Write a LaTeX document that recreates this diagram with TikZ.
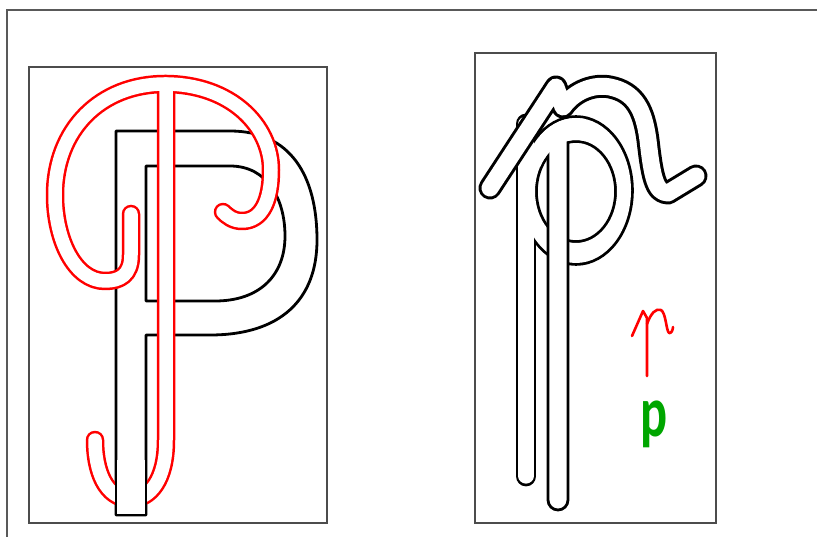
\documentclass[tikz,border=0pt]{standalone}
\usepackage{fontspec}
\newfontfamily\carlito{Carlito}

\begin{document}
\begin{tikzpicture}[x=1pt, y=-1pt,
  frame/.style={draw=black!65, line width=1.5},
  panel/.style={draw=black!70, line width=1.2},
  letter/.style={draw=black, line width=2.8, line join=round},
  redrim/.style={red, line width=18.5, line cap=round, line join=round},
  redhole/.style={white, line width=13.5, line cap=round, line join=round},
  rim/.style={black, line width=#1, line cap=round, line join=round},
  hole/.style={white, line width=#1, line cap=round, line join=round},
  redpen/.style={red, line width=2.6, line cap=round, line join=round}]

  \useasboundingbox (0,0) rectangle (817,537);
  \draw[frame] (7,537) -- (7,10) -- (817,10);

  % left panel
  \draw[panel] (29,67) rectangle (327,523);
  \draw[letter] (116,515) -- (116,131) -- (230,131)
    .. controls (290,131) and (317,175) .. (317,240)
    .. controls (317,300) and (280,335) .. (210,335) -- (146,335) -- (146,515) -- cycle;
  \draw[letter] (146,166) -- (230,166)
    .. controls (268,166) and (285,200) .. (285,236)
    .. controls (285,275) and (260,301) .. (215,301) -- (146,301) -- cycle;

  % red letter
  \draw[redrim] (131,214) -- (131,255) .. controls (131,275) and (120,281) .. (105,281)
    .. controls (75,281) and (55,240) .. (55,195) .. controls (55,130) and (100,84) .. (165,84)
    .. controls (230,84) and (271,125) .. (271,170) .. controls (271,200) and (262,221) .. (242,221)
    .. controls (233,221) and (227,216) .. (223,212);
  \draw[redrim] (166,84) -- (166,440) .. controls (166,480) and (150,499) .. (131,499)
    .. controls (105,499) and (95,470) .. (95,440);
  \draw[redhole] (131,214) -- (131,255) .. controls (131,275) and (120,281) .. (105,281)
    .. controls (75,281) and (55,240) .. (55,195) .. controls (55,130) and (100,84) .. (165,84)
    .. controls (230,84) and (271,125) .. (271,170) .. controls (271,200) and (262,221) .. (242,221)
    .. controls (233,221) and (227,216) .. (223,212);
  \draw[redhole] (166,84) -- (166,440) .. controls (166,480) and (150,499) .. (131,499)
    .. controls (105,499) and (95,470) .. (95,440);

  % foot of the stem over the red hook
  \fill[white] (116,460) rectangle (146,515);
  \draw[letter] (116,460) -- (116,515) -- (146,515) -- (146,460);

  % right panel
  \draw[panel] (475,53) rectangle (716,523);
  \draw[rim=20.8] (526,476) -- (526,124);
  \draw[black, line width=5.6]
    (576,190.5) ellipse [x radius=55, y radius=72.5]
    (576,191.5) ellipse [x radius=41, y radius=51.5];
  \draw[hole=15.2] (526,476) -- (526,124);
  \fill[white, even odd rule]
    (576,190.5) ellipse [x radius=55, y radius=72.5]
    (576,191.5) ellipse [x radius=41, y radius=51.5];
  \filldraw[letter, fill=white] (548,135) -- (548,500)
    arc[start angle=180, end angle=0, radius=10] -- (568,135);
  \begin{scope}
    \clip (540,100) rectangle (585,175);
    \fill[white, even odd rule]
      (576,190.5) ellipse [x radius=55, y radius=72.5]
      (576,191.5) ellipse [x radius=41, y radius=51.5];
  \end{scope}
  \draw[rim=23] (490,188) -- (556,87) -- (563,107)
    .. controls (575,90) and (595,84) .. (610,87) .. controls (635,92) and (644,110) .. (648,140)
    .. controls (652,175) and (655,193) .. (668,193) -- (696,176);
  \draw[hole=17] (490,188) -- (556,87) -- (563,107)
    .. controls (575,90) and (595,84) .. (610,87) .. controls (635,92) and (644,110) .. (648,140)
    .. controls (652,175) and (655,193) .. (668,193) -- (696,176);

  % small red and green letters
  \draw[redpen] (632,336) -- (643,311) -- (647,318) -- (647,376);
  \draw[redpen] (647,324) .. controls (651,313) and (656,308) .. (661,310)
    .. controls (666,313) and (666,330) .. (669,333) .. controls (671,334) and (673,330) .. (673,327);
  \node[text=green!65!black, font=\carlito\bfseries\fontsize{72}{72}\selectfont,
    inner sep=0pt, anchor=base west] (pgreen) at (640,436) {\scalebox{0.7}[1]{p}};
\end{tikzpicture}
\end{document}
